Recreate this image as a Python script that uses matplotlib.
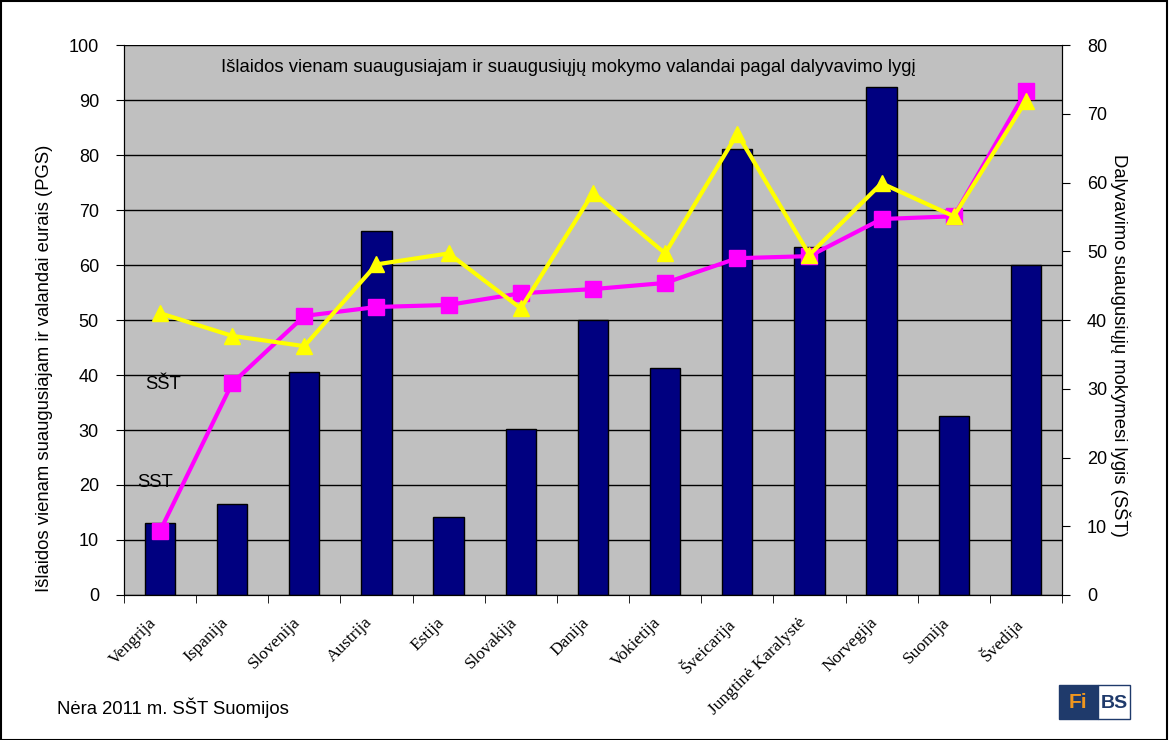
import matplotlib
matplotlib.use("Agg")
import matplotlib.pyplot as plt
import matplotlib.transforms as mtransforms
from matplotlib.patches import Rectangle

plt.rcParams['font.family'] = ['Liberation Sans', 'DejaVu Sans']

# data
countries = ["Vengrija", "Ispanija", "Slovenija", "Austrija", "Estija", "Slovakija",
             "Danija", "Vokietija", "Šveicarija", "Jungtinė Karalystė", "Norvegija",
             "Suomija", "Švedija"]
spend_pgs = [13.1, 16.5, 40.5, 66.2, 14.2, 30.2, 50.0, 41.3, 81.1, 63.3, 92.4, 32.5, 60.0]
sst = [9.3, 30.8, 40.6, 41.9, 42.2, 43.9, 44.5, 45.4, 49.0, 49.3, 54.7, 55.1, 73.3]
sst2 = [41.0, 37.7, 36.2, 48.1, 49.7, 41.7, 58.5, 49.7, 67.1, 49.5, 59.9, 55.1, 71.9]

fig = plt.figure(figsize=(11.69, 7.40), dpi=100)
ax = fig.add_axes([0.106, 0.196, 0.8025, 0.743])
ax.set_facecolor("#C0C0C0")

x = list(range(len(countries)))
ax.bar(x, spend_pgs, width=0.42, color="#000080", edgecolor="black", linewidth=1, zorder=2)
ax.set_xlim(-0.5, len(countries) - 0.5)
ax.set_ylim(0, 100)
ax.set_yticks(range(0, 101, 10))
ax.yaxis.grid(True, color="black", linewidth=1)
ax.set_axisbelow(True)
ax.tick_params(axis="y", labelsize=13, direction="out", length=6, pad=12)

ax.set_xticks(x)
ax.set_xticklabels(countries, rotation=45, ha="right", rotation_mode="anchor",
                   fontsize=12.5, family=["Liberation Serif", "DejaVu Serif"])
ax.tick_params(axis="x", which="major", length=0, pad=14)
shift = mtransforms.ScaledTranslation(-12 / 100, 0, fig.dpi_scale_trans)
for lab in ax.get_xticklabels():
    lab.set_transform(lab.get_transform() + shift)
ax.set_xticks([i - 0.5 for i in range(len(countries) + 1)], minor=True)
ax.tick_params(axis="x", which="minor", length=6, direction="out")
ax.spines["top"].set_visible(False)

ax2 = ax.twinx()
ax2.plot(x, sst, color="#FF00FF", linewidth=3, marker="s", markersize=11, zorder=3)
ax2.plot(x, sst2, color="#FFFF00", linewidth=3, marker="^", markersize=12, zorder=4)
ax2.set_ylim(0, 80)
ax2.set_yticks(range(0, 81, 10))
ax2.tick_params(axis="y", labelsize=13, direction="out", length=6, pad=12)
ax2.spines["top"].set_visible(False)

ax.text(0.474, 0.975, "Išlaidos vienam suaugusiajam ir suaugusiųjų mokymo valandai pagal dalyvavimo lygį",
        transform=ax.transAxes, ha="center", va="top", fontsize=13.3)
ax.text(-0.21, 38.2, "SŠT", fontsize=13.3, va="center")
ax.text(-0.31, 20.4, "SST", fontsize=13.3, va="center")

fig.text(45 / 1169, 1 - 368 / 740, "Išlaidos vienam suaugusiajam ir valandai eurais (PGS)",
         fontsize=13.3, rotation=90, ha="center", va="center")
fig.text(1120 / 1169, 1 - 345 / 740, "Dalyvavimo suaugusiųjų mokymesi lygis (SŠT)",
         fontsize=13.3, rotation=-90, ha="center", va="center")

fig.text(0.049, 0.043, "Nėra 2011 m. SŠT Suomijos", fontsize=13.3, va="center")

# FiBS logo
fig.patches.append(Rectangle((0.906, 0.029), 0.033, 0.045, transform=fig.transFigure,
                             facecolor="#1F3A6B", edgecolor="#1F3A6B"))
fig.patches.append(Rectangle((0.939, 0.029), 0.028, 0.045, transform=fig.transFigure,
                             facecolor="white", edgecolor="#1F3A6B", linewidth=1))
fig.text(0.9225, 0.050, "Fi", color="#F0961E", fontsize=15, fontweight="bold",
         ha="center", va="center")
fig.text(0.953, 0.050, "BS", color="#1F3A6B", fontsize=14, fontweight="bold",
         ha="center", va="center")

fig.patches.append(Rectangle((0.0005, 0.0005), 0.998, 0.998, transform=fig.transFigure,
                             facecolor="none", edgecolor="black", linewidth=1.5))

fig.savefig("out.png", dpi=100)
